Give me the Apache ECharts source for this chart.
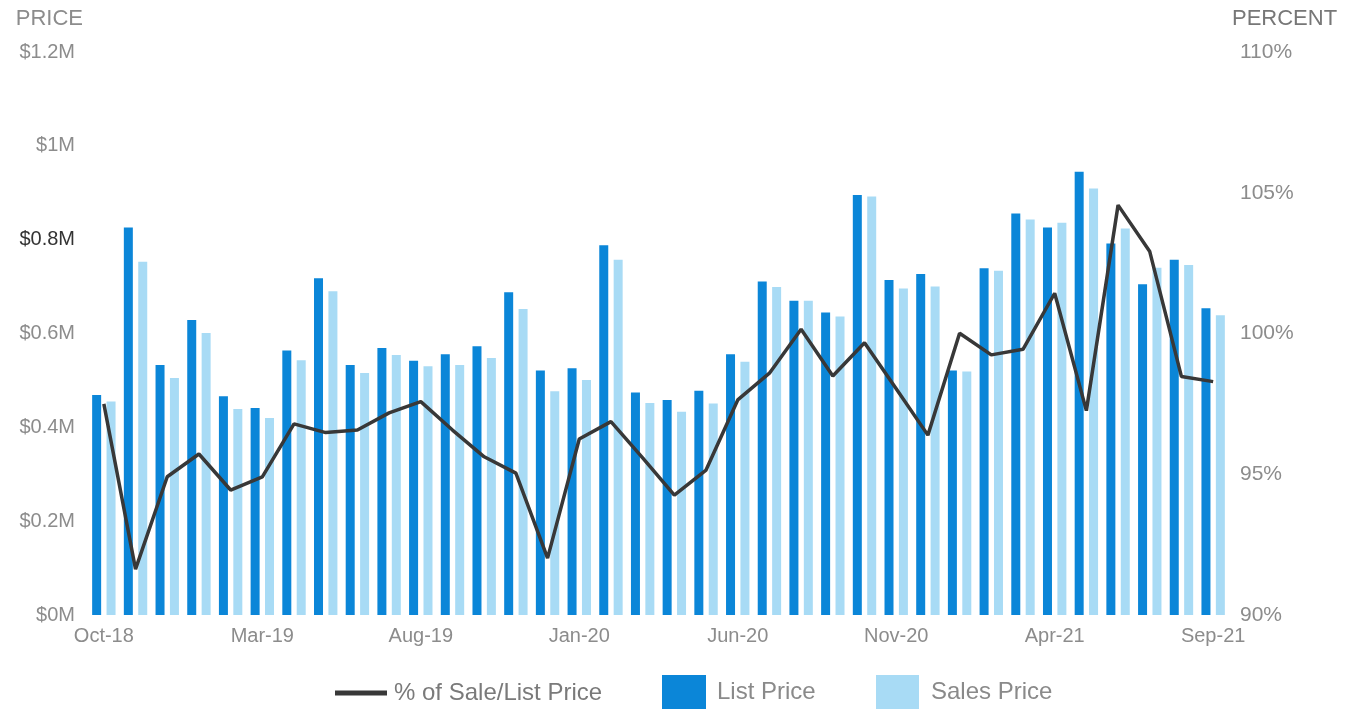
<!DOCTYPE html>
<html>
<head>
<meta charset="utf-8">
<script src="https://cdn.jsdelivr.net/npm/echarts@6/dist/echarts.min.js"></script>
<style>
html,body{margin:0;padding:0;background:#fff;}
#chart{width:1358px;height:709px;}
</style>
</head>
<body>
<div id="chart"></div>
<script>
const months = ['Oct-18','Nov-18','Dec-18','Jan-19','Feb-19','Mar-19','Apr-19','May-19','Jun-19','Jul-19','Aug-19','Sep-19',
  'Oct-19','Nov-19','Dec-19','Jan-20','Feb-20','Mar-20','Apr-20','May-20','Jun-20','Jul-20','Aug-20','Sep-20',
  'Oct-20','Nov-20','Dec-20','Jan-21','Feb-21','Mar-21','Apr-21','May-21','Jun-21','Jul-21','Aug-21','Sep-21'];
const listPrice = [0.469,0.826,0.533,0.629,0.466,0.441,0.564,0.718,0.533,0.569,0.542,0.556,
  0.573,0.688,0.521,0.526,0.788,0.474,0.458,0.478,0.556,0.711,0.670,0.645,
  0.895,0.714,0.727,0.521,0.739,0.856,0.826,0.945,0.792,0.705,0.757,0.654];
const salesPrice = [0.455,0.753,0.505,0.601,0.439,0.420,0.543,0.690,0.516,0.554,0.530,0.533,
  0.548,0.652,0.477,0.501,0.757,0.452,0.433,0.451,0.540,0.699,0.670,0.636,
  0.892,0.696,0.700,0.519,0.734,0.843,0.836,0.909,0.824,0.740,0.746,0.639];
const saleListPct = [97.50,91.63,94.91,95.72,94.44,94.91,96.79,96.48,96.57,97.18,97.58,96.57,
  95.62,95.04,92.02,96.25,96.87,95.58,94.26,95.15,97.64,98.59,100.15,98.49,
  99.67,98.04,96.39,100.01,99.24,99.44,101.43,97.26,104.56,102.91,98.47,98.29];

const FONT = "'Liberation Sans', Arial, sans-serif";
const GRAY = '#8c8c8c';
const DARK = '#0B86D8';
const LIGHT = '#A8DBF5';

const chart = echarts.init(document.getElementById('chart'));
chart.setOption({
  backgroundColor: '#ffffff',
  animation: false,
  textStyle: { fontFamily: FONT },
  grid: { left: 88, right: 129, top: 52, bottom: 94, containLabel: false },
  legend: [
    { data: [{ name: '% of Sale/List Price', icon: 'rect' }], left: 335, top: 681, padding: 0,
      itemWidth: 52, itemHeight: 5, selectedMode: false,
      textStyle: { fontSize: 24, color: '#7a7a7a', fontFamily: FONT, padding: [0,0,0,2] } },
    { data: [{ name: 'List Price', icon: 'rect' }], left: 662, top: 675, padding: 0,
      itemWidth: 44, itemHeight: 34, selectedMode: false,
      textStyle: { fontSize: 24, color: '#8a8a8a', fontFamily: FONT, padding: [0,0,0,6] } },
    { data: [{ name: 'Sales Price', icon: 'rect' }], left: 876, top: 675, padding: 0,
      itemWidth: 43, itemHeight: 34, selectedMode: false,
      textStyle: { fontSize: 24, color: '#8a8a8a', fontFamily: FONT, padding: [0,0,0,7] } }
  ],
  xAxis: {
    type: 'category',
    data: months,
    boundaryGap: true,
    axisLine: { show: false },
    axisTick: { show: false },
    splitLine: { show: false },
    axisLabel: { interval: 4, color: GRAY, fontSize: 20, margin: 11, fontFamily: FONT }
  },
  yAxis: [
    {
      type: 'value', min: 0, max: 1.2, interval: 0.2, position: 'left',
      name: 'PRICE', nameLocation: 'end', nameGap: 33,
      nameTextStyle: { align: 'right', verticalAlign: 'middle', color: GRAY, fontSize: 22, fontFamily: FONT, padding: [0, 5, 0, 0] },
      axisLine: { show: false }, axisTick: { show: false }, splitLine: { show: false },
      axisLabel: {
        fontSize: 20, margin: 13, fontFamily: FONT,
        color: function (v) { return Math.abs(v - 0.8) < 1e-6 ? '#333333' : '#8c8c8c'; },
        formatter: function (v) { return '$' + parseFloat(v.toFixed(1)) + 'M'; }
      }
    },
    {
      type: 'value', min: 90, max: 110, interval: 5, position: 'right',
      name: 'PERCENT', nameLocation: 'end', nameGap: 33,
      nameTextStyle: { align: 'left', verticalAlign: 'middle', color: '#777777', fontSize: 22, fontFamily: FONT, padding: [0, 0, 0, 3] },
      axisLine: { show: false }, axisTick: { show: false }, splitLine: { show: false },
      axisLabel: {
        fontSize: 21, margin: 11, fontFamily: FONT,
        color: function (v) { return (v === 110 || v === 100) ? '#444444' : '#8c8c8c'; },
        formatter: '{value}%'
      }
    }
  ],
  series: [
    { name: 'List Price', type: 'bar', yAxisIndex: 0, data: listPrice,
      barWidth: 9, barGap: '60%', itemStyle: { color: DARK } },
    { name: 'Sales Price', type: 'bar', yAxisIndex: 0, data: salesPrice,
      barWidth: 9, itemStyle: { color: LIGHT } },
    { name: '% of Sale/List Price', type: 'line', yAxisIndex: 1, data: saleListPct,
      symbol: 'none', z: 5, lineStyle: { color: '#383838', width: 3.5 }, itemStyle: { color: '#383838' } }
  ]
});
</script>
</body>
</html>
